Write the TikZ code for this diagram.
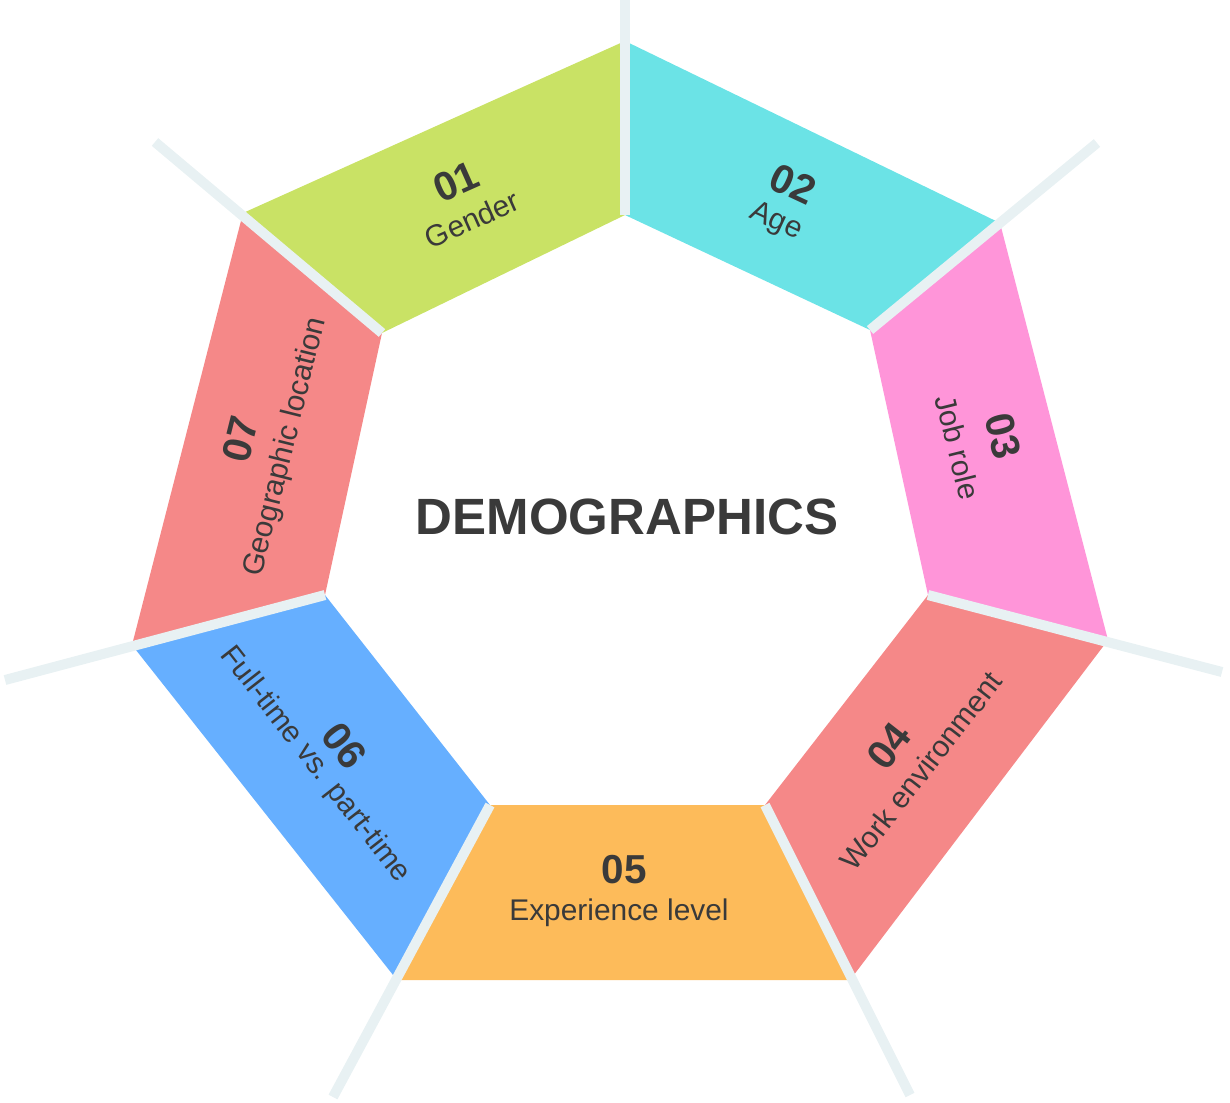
\documentclass[tikz,border=0pt]{standalone}
\usepackage{fontspec}
\setmainfont{Liberation Sans}
\usetikzlibrary{positioning}

\definecolor{genderGreen}{HTML}{C9E265}
\definecolor{ageCyan}{HTML}{6BE3E6}
\definecolor{jobPink}{HTML}{FF95D9}
\definecolor{workSalmon}{HTML}{F58888}
\definecolor{expOrange}{HTML}{FDBB5A}
\definecolor{timeBlue}{HTML}{66AFFF}
\definecolor{sepGrey}{HTML}{E8F1F3}
\definecolor{textDark}{HTML}{3A3A3A}

\begin{document}
\begin{tikzpicture}[x=0.01cm, y=-0.01cm]
		\tikzstyle {sep line} = [line width=2.85pt, draw=sepGrey]
		\tikzstyle {seg num} = [font=\bfseries\fontsize{11.5}{12}\selectfont, text=textDark, inner sep=0pt]
		\tikzstyle {seg label} = [font=\fontsize{8.5}{10}\selectfont, text=textDark, inner sep=0pt]

		\useasboundingbox (0,0) rectangle (1230,1102);

		% outer corners
		\coordinate (o1) at (625,41);
		\coordinate (o2) at (1000,223);
		\coordinate (o3) at (1108,640);
		\coordinate (o4) at (850,980);
		\coordinate (o5) at (397,980);
		\coordinate (o6) at (132,645);
		\coordinate (o7) at (243,213);
		% inner corners
		\coordinate (i1) at (625,215);
		\coordinate (i2) at (870,330);
		\coordinate (i3) at (928,595);
		\coordinate (i4) at (765,805);
		\coordinate (i5) at (490,805);
		\coordinate (i6) at (325,595);
		\coordinate (i7) at (382,333);
		% free ends of the separators
		\coordinate (e1) at (625,0);
		\coordinate (e2) at (1097,143);
		\coordinate (e3) at (1222,672);
		\coordinate (e4) at (910,1095);
		\coordinate (e5) at (333,1097);
		\coordinate (e6) at (5,680);
		\coordinate (e7) at (155,142);

		\fill[genderGreen] (o7) -- (o1) -- (i1) -- (i7) -- cycle;
		\fill[ageCyan] (o1) -- (o2) -- (i2) -- (i1) -- cycle;
		\fill[jobPink] (o2) -- (o3) -- (i3) -- (i2) -- cycle;
		\fill[workSalmon] (o3) -- (o4) -- (i4) -- (i3) -- cycle;
		\fill[expOrange] (o4) -- (o5) -- (i5) -- (i4) -- cycle;
		\fill[timeBlue] (o5) -- (o6) -- (i6) -- (i5) -- cycle;
		\fill[workSalmon] (o6) -- (o7) -- (i7) -- (i6) -- cycle;

		\draw[sep line] (i1) -- (e1);
		\draw[sep line] (i2) -- (e2);
		\draw[sep line] (i3) -- (e3);
		\draw[sep line] (i4) -- (e4);
		\draw[sep line] (i5) -- (e5);
		\draw[sep line] (i6) -- (e6);
		\draw[sep line] (i7) -- (e7);

		\node[seg num, rotate=24] (num1) at (456,182) {01};
		\node[seg label, rotate=24] (lab1) at (472,219) {Gender};

		\node[seg num, rotate=-25] (num2) at (793,184) {02};
		\node[seg label, rotate=-25] (lab2) at (776,222) {Age};

		\node[seg num, rotate=-76] (num3) at (1003,436) {03};
		\node[seg label, rotate=-76] (lab3) at (958,447) {Job role};

		\node[seg num, rotate=52] (num4) at (889,746) {04};
		\node[seg label, rotate=52] (lab4) at (921,771) {Work environment};

		\node[seg num] (num5) at (624,870) {05};
		\node[seg label] (lab5) at (619,913) {Experience level};

		\node[seg num, rotate=-52] (num6) at (344,746) {06};
		\node[seg label, rotate=-52] (lab6) at (315,765) {Full-time vs. part-time};

		\node[seg num, rotate=76] (num7) at (240,439) {07};
		\node[seg label, rotate=76] (lab7) at (286,447) {Geographic location};

		\node[font=\bfseries\fontsize{14.5}{16}\selectfont, text=textDark] (title) at (627,517) {DEMOGRAPHICS};

\end{tikzpicture}
\end{document}
